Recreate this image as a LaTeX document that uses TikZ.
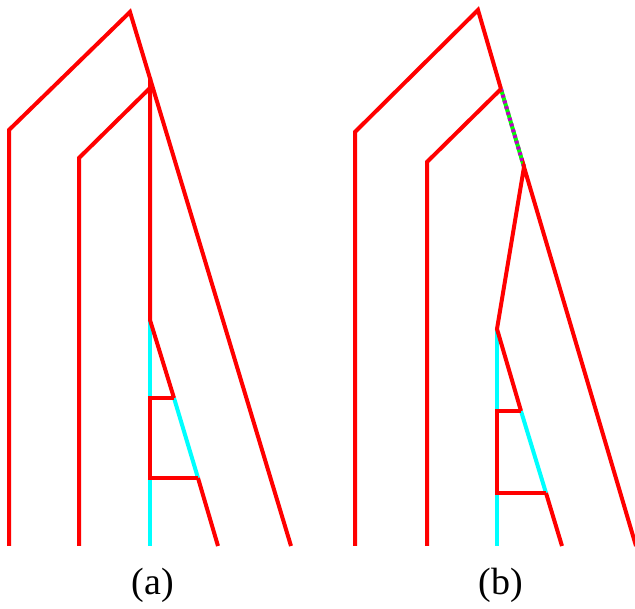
\documentclass[tikz,border=0pt]{standalone}
\usepackage{fontspec}
\setmainfont{Liberation Serif}
\definecolor{tred}{RGB}{255,0,0}
\definecolor{tcyan}{RGB}{0,255,255}
\definecolor{tgreen}{RGB}{0,255,0}
\definecolor{tmag}{RGB}{190,0,200}
\begin{document}
\begin{tikzpicture}[x=1pt,y=-1pt,
  rl/.style={draw=tred,line width=4pt},
  cl/.style={draw=tcyan,line width=4pt},
  gl/.style={draw=tgreen,line width=4pt},
  ml/.style={draw=tmag,line width=4pt,dash pattern=on 3pt off 3pt},
  lab/.style={font=\fontsize{38}{40}\selectfont,inner sep=0pt}]
\useasboundingbox (0,0) rectangle (635,609);
% panel (a)
\coordinate (A0) at (130,12);
\coordinate (A1) at (9,130);
\coordinate (A1b) at (9,546);
\coordinate (AV) at (150,78);
\coordinate (AB) at (150,88);
\coordinate (A2) at (79,158);
\coordinate (A2b) at (79,546);
\coordinate (AR) at (291,546);
\coordinate (AC) at (150,320);
\coordinate (AH1) at (174,398);
\coordinate (AH1l) at (150,398);
\coordinate (AH2) at (198,478);
\coordinate (AH2l) at (150,478);
\coordinate (AE) at (218,546);
\coordinate (AVb) at (150,546);
\draw[cl] (AC) -- (AH1l);
\draw[cl] (AH2l) -- (AVb);
\draw[cl] (AH1) -- (AH2);
\draw[rl] (A1b) -- (A1) -- (A0) -- (AR);
\draw[rl] (A2b) -- (A2) -- (AB);
\draw[rl] (AV) -- (AC) -- (AH1);
\draw[rl] (AH1) -- (AH1l) -- (AH2l) -- (AH2);
\draw[rl] (AH2) -- (AE);
\node[lab] (la) at (153,585) {(a)};
% panel (b)
\coordinate (B0) at (478,10);
\coordinate (B1) at (355,132);
\coordinate (B1b) at (355,546);
\coordinate (BB) at (501,89);
\coordinate (B2) at (427,162);
\coordinate (B2b) at (427,546);
\coordinate (BD) at (524,167);
\coordinate (BR) at (636,546);
\coordinate (BC) at (497,329);
\coordinate (BH1) at (521,411);
\coordinate (BH1l) at (497,411);
\coordinate (BH2) at (546,493);
\coordinate (BH2l) at (497,493);
\coordinate (BE) at (562,546);
\coordinate (BVb) at (497,546);
\draw[cl] (BC) -- (BH1l);
\draw[cl] (BH2l) -- (BVb);
\draw[cl] (BH1) -- (BH2);
\draw[gl] (BB) -- (BD);
\draw[ml] (BB) -- (BD);
\draw[rl] (B1b) -- (B1) -- (B0) -- (BB);
\draw[rl] (B2b) -- (B2) -- (BB);
\draw[rl] (BR) -- (BD) -- (BC) -- (BH1);
\draw[rl] (BH1) -- (BH1l) -- (BH2l) -- (BH2);
\draw[rl] (BH2) -- (BE);
\node[lab] (lb) at (501,585) {(b)};
\end{tikzpicture}
\end{document}
